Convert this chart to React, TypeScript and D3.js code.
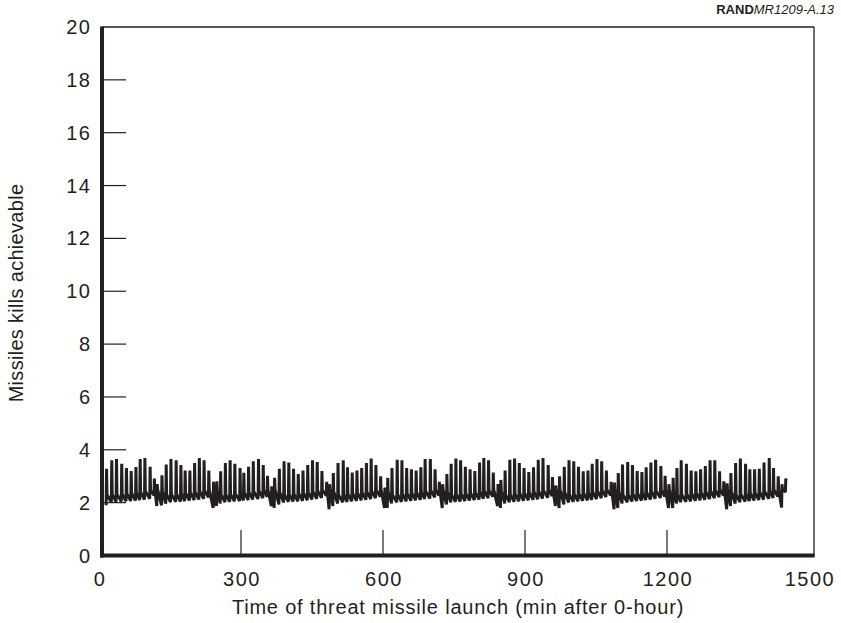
import React from "react";
import * as d3 from "d3";

// Spike times (minutes after 0-hour)
const times = [
  16,27,37,48,58,68,78,87,97,108,
  117,123,133,142,152,163,173,182,192,202,
  212,222,232,242,249,257,267,277,287,298,
  306,316,326,337,347,356,365,371,381,391,
  401,411,421,431,441,451,461,471,481,487,
  495,505,516,525,535,545,555,565,575,585,
  595,604,610,619,630,640,650,660,670,680,
  689,700,710,719,726,735,744,754,764,774,
  784,794,804,813,823,833,843,849,858,868,
  878,888,898,908,918,928,938,949,958,965,
  973,983,993,1003,1013,1023,1033,1042,1052,1062,
  1072,1082,1089,1097,1106,1117,1127,1137,1147,1156,
  1166,1176,1187,1196,1204,1213,1221,1230,1241,1251,
  1261,1271,1281,1291,1301,1311,1320,1327,1335,1345,
  1355,1366,1375,1385,1395,1405,1416,1425,1435,1443,
  1451,
];

// Spike peak values
const peaks = [
  3.28,3.60,3.65,3.47,3.31,3.20,3.35,3.65,3.69,3.36,
  2.91,2.70,3.04,3.44,3.65,3.60,3.42,3.22,3.22,3.50,
  3.69,3.60,3.22,2.79,2.81,3.19,3.50,3.60,3.47,3.31,
  3.13,3.36,3.57,3.65,3.42,3.02,2.62,2.94,3.28,3.57,
  3.52,3.28,3.08,3.22,3.42,3.60,3.54,3.20,2.79,2.70,
  3.12,3.50,3.60,3.34,3.14,3.22,3.31,3.50,3.67,3.42,
  3.00,2.56,2.94,3.31,3.62,3.60,3.31,3.26,3.22,3.34,
  3.65,3.65,3.26,2.79,2.70,3.08,3.47,3.67,3.60,3.36,
  3.26,3.20,3.52,3.69,3.60,3.14,2.70,2.86,3.22,3.62,
  3.67,3.50,3.31,3.16,3.34,3.62,3.69,3.42,2.97,2.65,
  3.00,3.36,3.60,3.57,3.36,3.19,3.22,3.47,3.65,3.57,
  3.22,2.79,2.76,3.12,3.44,3.54,3.42,3.20,3.16,3.34,
  3.52,3.62,3.39,3.02,2.70,2.94,3.31,3.60,3.47,3.22,
  3.19,3.26,3.39,3.60,3.60,3.19,2.81,2.73,3.12,3.50,
  3.67,3.47,3.26,3.26,3.28,3.52,3.69,3.31,3.00,2.70,
  2.91,
];

// Low value just before each spike
const lows = [
  1.90,2.02,2.03,2.04,2.05,2.06,2.08,2.10,2.12,2.15,
  2.28,1.87,1.90,1.96,2.02,2.03,2.04,2.06,2.08,2.10,
  2.12,2.15,2.20,1.80,1.87,1.97,2.02,2.03,2.05,2.06,
  2.08,2.10,2.12,2.14,2.17,2.22,1.87,1.80,1.93,2.01,
  2.03,2.04,2.05,2.07,2.09,2.12,2.15,2.18,2.26,1.75,
  1.87,1.97,2.02,2.03,2.05,2.07,2.09,2.11,2.14,2.17,
  2.22,1.80,1.80,1.97,2.02,2.03,2.05,2.07,2.09,2.11,
  2.14,2.16,2.20,2.27,1.80,1.93,2.01,2.03,2.04,2.06,
  2.08,2.10,2.12,2.15,2.17,2.22,1.87,1.80,1.97,2.02,
  2.03,2.05,2.07,2.09,2.11,2.13,2.16,2.19,2.25,1.87,
  1.80,1.93,2.01,2.03,2.05,2.07,2.09,2.11,2.14,2.17,
  2.21,2.27,1.75,1.80,1.97,2.02,2.04,2.06,2.08,2.10,
  2.12,2.15,2.18,2.23,1.80,1.80,1.97,2.02,2.03,2.05,
  2.07,2.09,2.11,2.14,2.17,2.21,2.27,1.75,1.87,1.97,
  2.02,2.04,2.06,2.08,2.10,2.12,2.15,2.18,2.23,1.82,
  2.40,
];

// Level the line settles at right after each spike
const bases = [
  2.30,2.31,2.32,2.33,2.34,2.36,2.38,2.40,2.43,2.46,
  2.50,2.50,2.42,2.31,2.32,2.33,2.35,2.37,2.39,2.41,
  2.43,2.46,2.50,2.50,2.44,2.30,2.31,2.32,2.34,2.36,
  2.38,2.40,2.42,2.45,2.47,2.50,2.50,2.50,2.40,2.30,
  2.31,2.33,2.35,2.37,2.39,2.42,2.45,2.48,2.50,2.52,
  2.42,2.30,2.31,2.33,2.35,2.37,2.39,2.41,2.44,2.47,
  2.50,2.52,2.42,2.30,2.31,2.33,2.35,2.37,2.39,2.41,
  2.44,2.47,2.49,2.50,2.50,2.40,2.30,2.32,2.33,2.35,
  2.37,2.39,2.42,2.45,2.47,2.50,2.52,2.44,2.30,2.31,
  2.33,2.35,2.37,2.39,2.41,2.43,2.46,2.49,2.50,2.52,
  2.50,2.40,2.30,2.32,2.34,2.36,2.38,2.41,2.44,2.47,
  2.49,2.50,2.52,2.42,2.30,2.31,2.33,2.35,2.37,2.39,
  2.42,2.45,2.47,2.50,2.52,2.42,2.30,2.31,2.33,2.35,
  2.37,2.39,2.42,2.45,2.47,2.50,2.50,2.52,2.42,2.30,
  2.32,2.34,2.36,2.38,2.41,2.44,2.46,2.49,2.50,2.53,
  2.85,
];

const yTicks = [0, 2, 4, 6, 8, 10, 12, 14, 16, 18, 20];
const xTickLabels = [0, 300, 600, 900, 1200, 1500];
const xInnerTicks = [300, 600, 900, 1200];

const W = 841;
const H = 623;
const FONT = "'Liberation Sans', Arial, Helvetica, sans-serif";
const INK = "#231f20";

export default function App() {
  const frameL = 102;
  const frameR = 814;
  const frameT = 27;
  const frameB = 555.5;

  const x = d3.scaleLinear().domain([0, 1500]).range([99, 809]);
  const y = d3.scaleLinear().domain([0, 20]).range([555.5, 27]);

  const pts: [number, number][] = [];
  times.forEach((t, i) => {
    pts.push([t - 0.9, lows[i]]);
    pts.push([t, peaks[i]]);
    pts.push([t + 0.9, bases[i]]);
  });

  const line = d3
    .line<[number, number]>()
    .x((d) => x(d[0]))
    .y((d) => y(d[1]));

  return (
    <svg
      width={W}
      height={H}
      style={{ position: "absolute", left: 0, top: 0, background: "#fff" }}
      fontFamily={FONT}
    >
      <rect x={0} y={0} width={W} height={H} fill="#fff" />
      {/* RAND label */}
      <text x={834} y={14} textAnchor="end" fontSize={13} fill={INK}>
        <tspan fontWeight="bold">RAND</tspan>
        <tspan fontStyle="italic">MR1209-A.13</tspan>
      </text>

      {/* thin top and right borders */}
      <line x1={frameL} x2={frameR} y1={frameT} y2={frameT} stroke={INK} strokeWidth={1.3} />
      <line x1={frameR} x2={frameR} y1={frameT} y2={frameB} stroke={INK} strokeWidth={1.3} />

      {/* y ticks (inward) */}
      {yTicks
        .filter((v) => v > 0 && v < 20)
        .map((v) => (
          <line key={"yt" + v} x1={frameL} x2={126} y1={y(v)} y2={y(v)} stroke={INK} strokeWidth={1.2} />
        ))}
      {/* x inner ticks (upward) */}
      {xInnerTicks.map((v) => (
        <line key={"xt" + v} x1={x(v)} x2={x(v)} y1={frameB} y2={530} stroke={INK} strokeWidth={1.2} />
      ))}

      {/* data */}
      <path d={line(pts) || ""} fill="none" stroke={INK} strokeWidth={3} strokeLinejoin="miter" strokeMiterlimit={2} />

      {/* thick left and bottom axes */}
      <line x1={frameL} x2={frameL} y1={frameT - 0.5} y2={frameB + 2} stroke={INK} strokeWidth={4} />
      <line x1={frameL - 2} x2={frameR + 0.7} y1={frameB} y2={frameB} stroke={INK} strokeWidth={4} />

      {/* y labels */}
      {yTicks.map((v) => (
        <text key={"yl" + v} x={91.5} y={y(v) + 7} textAnchor="end" fontSize={20} letterSpacing={1.5} fill={INK}>
          {v}
        </text>
      ))}
      {/* x labels */}
      {xTickLabels.map((v) => (
        <text key={"xl" + v} x={x(v) + 1} y={585.5} textAnchor="middle" fontSize={20} letterSpacing={1.5} fill={INK}>
          {v}
        </text>
      ))}

      {/* axis titles */}
      <text x={458} y={614} textAnchor="middle" fontSize={20} letterSpacing={0.8} fill={INK}>
        Time of threat missile launch (min after 0-hour)
      </text>
      <text
        transform={`translate(23,293) rotate(-90)`}
        textAnchor="middle"
        fontSize={20}
        letterSpacing={0.3}
        fill={INK}
      >
        Missiles kills achievable
      </text>
    </svg>
  );
}
